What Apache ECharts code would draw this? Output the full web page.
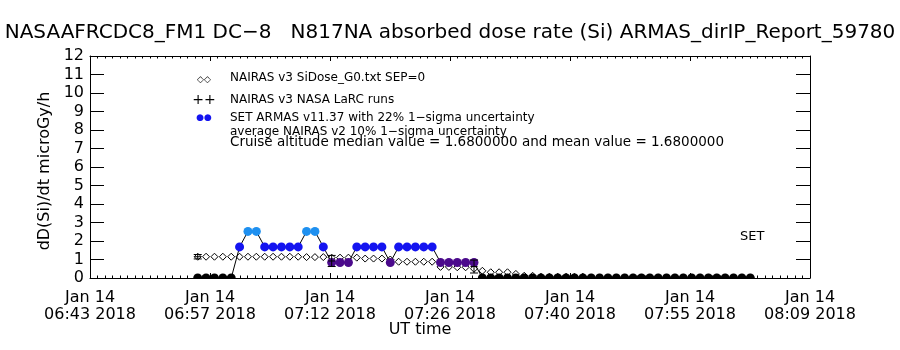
<!DOCTYPE html>
<html><head><meta charset="utf-8">
<script src="https://cdn.jsdelivr.net/npm/echarts@6/dist/echarts.min.js"></script>
<style>html,body{margin:0;padding:0;background:#fff}#c{width:900px;height:350px}</style>
</head><body><div id="c"></div>
<script>
// ---- data ----
const titleText = "NASAAFRCDC8_FM1 DC\u22128   N817NA absorbed dose rate (Si) ARMAS_dirIP_Report_59780";
const xTickLabels = ["06:43","06:57","07:12","07:26","07:40","07:55","08:09"];
const axisStart = "06:43:00";
const axisEnd = "08:09:00";
const yMin = 0, yMax = 12;
const times = [
 "06:55:52","06:56:52","06:57:52","06:58:52","06:59:52","07:00:52","07:01:52","07:02:52","07:03:52","07:04:52",
 "07:05:52","07:06:52","07:07:52","07:08:52","07:09:52","07:10:52","07:11:52","07:12:52","07:13:52","07:14:52",
 "07:15:52","07:16:52","07:17:52","07:18:52","07:19:52","07:20:52","07:21:52","07:22:52","07:23:52","07:24:52",
 "07:25:52","07:26:52","07:27:52","07:28:52","07:29:52","07:30:52","07:31:52","07:32:52","07:33:52","07:34:52",
 "07:35:52","07:36:52","07:37:52","07:38:52","07:39:52","07:40:52","07:41:52","07:42:52","07:43:52","07:44:52",
 "07:45:52","07:46:52","07:47:52","07:48:52","07:49:52","07:50:52","07:51:52","07:52:52","07:53:52","07:54:52",
 "07:55:52","07:56:52","07:57:52","07:58:52","07:59:52","08:00:52","08:01:52"
];
const armasDose = [
 0,0,0,0,0,1.68,2.52,2.52,1.68,1.68,
 1.68,1.68,1.68,2.52,2.52,1.68,0.84,0.84,0.84,1.68,
 1.68,1.68,1.68,0.84,1.68,1.68,1.68,1.68,1.68,0.84,
 0.84,0.84,0.84,0.84,0,0,0,0,0,0,
 0,0,0,0,0,0,0,0,0,0,
 0,0,0,0,0,0,0,0,0,0,
 0,0,0,0,0,0,0
];
const nairasDose = [
 1.15,1.15,1.15,1.15,1.15,1.15,1.15,1.15,1.15,1.15,
 1.15,1.15,1.15,1.13,1.13,1.13,1.10,1.10,1.10,1.10,
 1.05,1.05,1.05,1.00,0.88,0.88,0.88,0.88,0.88,0.60,
 0.60,0.58,0.58,0.50,0.39,0.31,0.31,0.31,0.22,0.12,
 0.12,0.07,0.07,0.07,0.07,0.07,0.07,0.03,0.03,0.03,
 0.03,0.03,0.03,0.03,0.03,0.03,0.03,0.03,0.03,0.03,
 0.03,0.03,0.03,0.03,0.03,0.03,0.03
];
const larcTimes = ["06:55:52","07:11:52","07:28:52"];
const larcDose = [1.15, 0.92, 0.62];
const larcErr = [0.12, 0.30, 0.35];
const armasLevels = [0, 0.84, 1.68, 2.52];
const armasColors = ["#000000", "#4b0a8c", "#1414f0", "#1e90f0"];
const legendLines = [
 "NAIRAS v3 SiDose_G0.txt SEP=0",
 "NAIRAS v3 NASA LaRC runs",
 "SET ARMAS v11.37 with 22% 1\u2212sigma uncertainty",
 "average NAIRAS v2 10% 1\u2212sigma uncertainty",
 "Cruise altitude median value = 1.6800000 and mean value = 1.6800000"
];

// ---- helpers ----
function toMin(s){const p=s.split(':').map(Number);return p[0]*60+p[1]+(p[2]||0)/60;}
const t0 = toMin(axisStart), t1 = toMin(axisEnd);
const xMax = t1 - t0;
const xInterval = xMax / (xTickLabels.length - 1);
function colorFor(v){let best=0;for(let i=0;i<armasLevels.length;i++){if(Math.abs(armasLevels[i]-v)<Math.abs(armasLevels[best]-v))best=i;}return armasColors[best];}

const nairasData = times.map((t,i)=>[toMin(t)-t0, nairasDose[i]]);
const armasData = times.map((t,i)=>[toMin(t)-t0, armasDose[i]]);
const larcData = larcTimes.map((t,i)=>[toMin(t)-t0, larcDose[i], larcErr[i]]);

const FONT = "DejaVu Sans";
const chart = echarts.init(document.getElementById('c'), null, {renderer:'canvas'});
const xBase = {
  type:'value', min:0, max:xMax, interval:xInterval,
  axisLine:{show:true,onZero:false,lineStyle:{color:'#000',width:1}},
  axisTick:{show:true,inside:true,length:5,lineStyle:{color:'#000'}},
  minorTick:{show:true,splitNumber:16,length:2.5,lineStyle:{color:'#000'}},
  splitLine:{show:false}
};
const yBase = {
  type:'value', min:yMin, max:yMax, interval:1,
  axisLine:{show:true,onZero:false,lineStyle:{color:'#000',width:1}},
  axisTick:{show:true,inside:true,length:14,lineStyle:{color:'#000'}},
  splitLine:{show:false}
};
const option = {
  backgroundColor:'#fff',
  animation:false,
  grid:{left:90,right:90,top:56,bottom:72},
  xAxis:[
    Object.assign({}, xBase, {position:'bottom',
      axisLabel:{show:true,color:'#000',fontFamily:FONT,fontSize:16,lineHeight:17,margin:11,
        showMinLabel:true,showMaxLabel:true,
        formatter:(v,i)=>{const k=Math.round(v/xInterval);return "Jan 14\n"+xTickLabels[k]+" 2018";}}}),
    Object.assign({}, xBase, {position:'top', axisLabel:{show:false}})
  ],
  yAxis:[
    Object.assign({}, yBase, {position:'left',
      axisLabel:{show:true,color:'#000',fontFamily:FONT,fontSize:16,margin:6}}),
    Object.assign({}, yBase, {position:'right', axisLabel:{show:false}})
  ],
  graphic:[
    {type:'text',left:'center',top:23,style:{text:titleText,font:'20px "DejaVu Sans"',fill:'#000'}},
    {type:'text',x:45,y:171,rotation:Math.PI/2,style:{text:"dD(Si)/dt microGy/h",font:'16px "DejaVu Sans"',fill:'#000',textAlign:'center',textVerticalAlign:'middle'}},
    {type:'text',x:420,y:330,style:{text:"UT time",font:'16px "DejaVu Sans"',fill:'#000',textAlign:'center',textVerticalAlign:'middle'}},
    {type:'text',x:204,y:80,style:{text:"\u25C7\u25C7",font:'9px "DejaVu Sans"',fill:'#000',textAlign:'center',textVerticalAlign:'middle'}},
    {type:'text',x:204,y:100,style:{text:"++",font:'14px "DejaVu Sans"',fill:'#000',textAlign:'center',textVerticalAlign:'middle'}},
    {type:'text',x:204,y:118,style:{text:"\u25CF\u25CF",font:'9px "DejaVu Sans"',fill:'#1414f0',textAlign:'center',textVerticalAlign:'middle'}},
    {type:'text',x:230,y:78,style:{text:legendLines[0],font:'12px "DejaVu Sans"',fill:'#000',textVerticalAlign:'middle'}},
    {type:'text',x:230,y:100,style:{text:legendLines[1],font:'12px "DejaVu Sans"',fill:'#000',textVerticalAlign:'middle'}},
    {type:'text',x:230,y:118,style:{text:legendLines[2],font:'12px "DejaVu Sans"',fill:'#000',textVerticalAlign:'middle'}},
    {type:'text',x:230,y:132,style:{text:legendLines[3],font:'12px "DejaVu Sans"',fill:'#000',textVerticalAlign:'middle'}},
    {type:'text',x:230,y:142,style:{text:legendLines[4],font:'13.5px "DejaVu Sans"',fill:'#000',textVerticalAlign:'middle'}},
    {type:'text',x:740,y:237,style:{text:"SET",font:'13px "DejaVu Sans"',fill:'#000',textVerticalAlign:'middle'}}
  ],
  series:[
    {type:'custom',name:'NAIRAS v3',data:nairasData,z:2,
     renderItem:(params,api)=>{
       const c=api.coord([api.value(0),api.value(1)]);const h=3.5;
       const bottom=params.coordSys.y+params.coordSys.height;
       let pts;
       if(c[1]+h>bottom){
         const w=Math.max(0,h-(bottom-c[1]));
         pts=[[c[0],c[1]-h],[c[0]+h,Math.min(c[1],bottom)],[c[0]+w,bottom],[c[0]-w,bottom],[c[0]-h,Math.min(c[1],bottom)]];
       } else {
         pts=[[c[0],c[1]-h],[c[0]+h,c[1]],[c[0],c[1]+h],[c[0]-h,c[1]]];
       }
       return {type:'polygon',shape:{points:pts},style:{fill:'#fff',stroke:'#000',lineWidth:1}};
     }},
    {type:'line',name:'ARMAS line',data:armasData,showSymbol:false,symbol:'none',
     lineStyle:{color:'#000',width:1},z:3,clip:true},
    {type:'custom',name:'ARMAS',data:armasData,z:4,
     renderItem:(params,api)=>{
       const v=api.value(1);const c=api.coord([api.value(0),v]);const r=4.5;
       const bottom=params.coordSys.y+params.coordSys.height;
       if(c[1]+r>bottom-0.01){
         return {type:'sector',shape:{cx:c[0],cy:bottom,r0:0,r:r,startAngle:Math.PI,endAngle:2*Math.PI,clockwise:true},style:{fill:colorFor(v)}};
       }
       return {type:'circle',shape:{cx:c[0],cy:c[1],r:r},style:{fill:colorFor(v)}};
     }},
    {type:'custom',name:'LaRC',data:larcData,z:5,
     renderItem:(params,api)=>{
       const x=api.value(0), y=api.value(1), e=api.value(2);
       const c=api.coord([x,y]), top=api.coord([x,y+e]), bot=api.coord([x,y-e]);
       const hw=4, ps=3.5, st={stroke:'#000',lineWidth:1};
       return {type:'group',children:[
         {type:'line',shape:{x1:c[0],y1:top[1],x2:c[0],y2:bot[1]},style:st},
         {type:'line',shape:{x1:c[0]-hw,y1:top[1],x2:c[0]+hw,y2:top[1]},style:st},
         {type:'line',shape:{x1:c[0]-hw,y1:bot[1],x2:c[0]+hw,y2:bot[1]},style:st},
         {type:'line',shape:{x1:c[0]-ps,y1:c[1],x2:c[0]+ps,y2:c[1]},style:st}
       ]};
     }}
  ]
};
chart.setOption(option);
</script></body></html>
